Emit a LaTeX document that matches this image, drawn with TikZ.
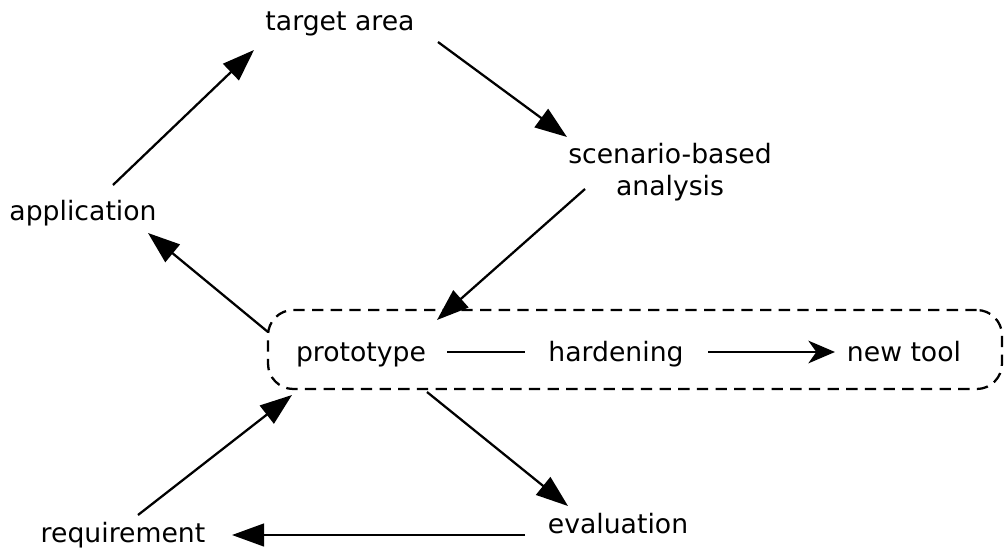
\documentclass[tikz,border=0pt]{standalone}
\usepackage{fontspec}
\setmainfont{DejaVu Sans}
\usetikzlibrary{arrows.meta}
\begin{document}
\begin{tikzpicture}[x=0.75pt,y=-0.75pt,
  label/.style={inner sep=0pt, font=\fontsize{20pt}{24pt}\selectfont},
  flow/.style={line width=1.7pt, -{Triangle[length=24pt,width=17pt]}},
  plain/.style={line width=1.7pt},
  toolflow/.style={line width=1.7pt, -{Stealth[length=20pt,width=17pt,inset=6pt]}},
  group/.style={draw, line width=1.7pt, dash pattern=on 8.5pt off 5.5pt,
    rounded corners=19pt, minimum width=550.5pt, minimum height=59.25pt, inner sep=0pt}]
\useasboundingbox (0,0) rectangle (1004,550);

% grouping frame round the tool pipeline
\node[group] (box) at (635,349.5) {};

% stage labels
\node[label, anchor=base] (target) at (340,30) {target area};
\node[label, align=center] (scen) at (670,172) {scenario-based\\analysis};
\node[label, anchor=base] (app) at (83,220) {application};
\node[label, anchor=base] (proto) at (361,361) {prototype};
\node[label, anchor=base] (hard) at (616,361) {hardening};
\node[label, anchor=base] (newtool) at (904,361) {new tool};
\node[label, anchor=base] (req) at (123,542) {requirement};
\node[label, anchor=base] (eval) at (618,533) {evaluation};

% cycle connectors
\draw[flow] ([shift={(30,-35)}]app.base) -- ([shift={(-86,20)}]target.base);
\draw[flow] ([shift={(98,12)}]target.base) -- ([shift={(-103,-35)}]scen.center);
\draw[flow] ([shift={(-85,17)}]scen.center) -- ([shift={(-198,-29.5)}]box.center);
\draw[flow] ([shift={(-367,-17.5)}]box.center) -- ([shift={(65,13)}]app.base);
\draw[flow] ([shift={(-208,42.5)}]box.center) -- ([shift={(-50,-27)}]eval.base);
\draw[flow] ([shift={(-93,2)}]eval.base) -- ([shift={(109,-7)}]req.base);
\draw[flow] ([shift={(15,-27)}]req.base) -- ([shift={(-343,45.5)}]box.center);

% pipeline inside the frame
\draw[plain] ([shift={(86,-9)}]proto.base) -- ([shift={(-91,-9)}]hard.base);
\draw[toolflow] ([shift={(92,-9)}]hard.base) -- ([shift={(-69,-9)}]newtool.base);
\end{tikzpicture}
\end{document}
